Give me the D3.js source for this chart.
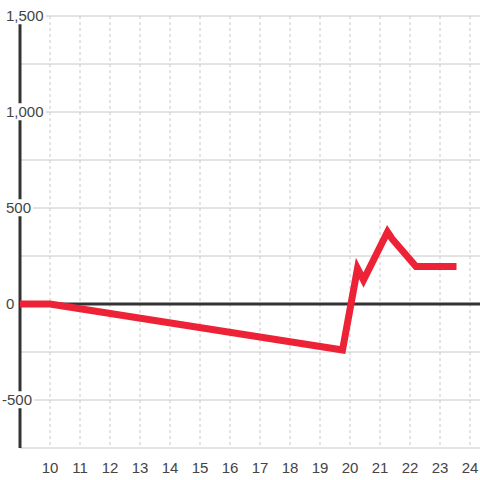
<!DOCTYPE html>
<html lang="en">
<head>
    <meta charset="UTF-8">
    <script src="https://d3js.org/d3.v7.min.js"></script>
    <title>line chart</title>
    <style>
        body { margin: 0; background: #fff; }
        text { font-family: "Liberation Sans", Arial, sans-serif; font-size: 15px; fill: #444; }
    </style>
</head>
<body>
<svg width="480" height="480"></svg>
<script>
    const xValues = [9, 10, 19.75, 20.25, 20.45, 21.25, 21.4, 22.2, 23.55];
    const yValues = [0, 0, -240, 185, 125, 375, 340, 195, 195];
    const xTicks = [10, 11, 12, 13, 14, 15, 16, 17, 18, 19, 20, 21, 22, 23, 24];
    const yTicks = [-750, -500, -250, 0, 250, 500, 750, 1000, 1250, 1500];
    const yLabels = [-500, 0, 500, 1000, 1500];

    const data = xValues.map((x, i) => ({ x: x, y: yValues[i] }));

    const svg = d3.select("svg");

    const xScale = d3.scaleLinear().domain([9, 24.333]).range([20, 480]);
    const yScale = d3.scaleLinear().domain([-750, 1500]).range([448, 16]);

    // 세로 점선 그리드
    svg.append("g").selectAll("line")
        .data(xTicks)
        .enter()
        .append("line")
        .attr("x1", d => xScale(d)).attr("x2", d => xScale(d))
        .attr("y1", yScale(1500)).attr("y2", yScale(-750))
        .attr("stroke", "#c8c8c8")
        .attr("stroke-dasharray", "3,3");

    // 가로 그리드
    svg.append("g").selectAll("line")
        .data(yTicks)
        .enter()
        .append("line")
        .attr("x1", xScale(9)).attr("x2", 480)
        .attr("y1", d => yScale(d)).attr("y2", d => yScale(d))
        .attr("stroke", "#c8c8c8");

    // y축 선
    svg.append("line")
        .attr("x1", xScale(9)).attr("x2", xScale(9))
        .attr("y1", yScale(1500)).attr("y2", yScale(-750))
        .attr("stroke", "#333").attr("stroke-width", 3);

    // 0 기준선
    svg.append("line")
        .attr("x1", xScale(9)).attr("x2", 480)
        .attr("y1", yScale(0)).attr("y2", yScale(0))
        .attr("stroke", "#333").attr("stroke-width", 3);

    // y 라벨 (흰 배경)
    const yLabelG = svg.append("g").selectAll("g")
        .data(yLabels)
        .enter()
        .append("g");
    const yText = yLabelG.append("text")
        .attr("x", d => d < 0 ? 2 : 6)
        .attr("y", d => yScale(d))
        .attr("dy", "0.35em")
        .text(d => d3.format(",")(d).replace("−", "-"));
    yLabelG.each(function () {
        const t = d3.select(this).select("text");
        const b = t.node().getBBox();
        d3.select(this).insert("rect", "text")
            .attr("x", b.x - 1).attr("y", b.y)
            .attr("width", b.width + 3).attr("height", b.height)
            .attr("fill", "#fff");
    });

    // x 라벨
    svg.append("g").selectAll("text")
        .data(xTicks)
        .enter()
        .append("text")
        .attr("x", d => xScale(d))
        .attr("y", 473)
        .attr("text-anchor", "middle")
        .text(d => d);

    const lineGen = d3.line()
        .x(d => xScale(d.x))
        .y(d => yScale(d.y));

    svg.append("path")
        .attr("d", lineGen(data))
        .attr("fill", "none")
        .attr("stroke", "#ee2236")
        .attr("stroke-width", 7)
        .attr("stroke-linejoin", "miter");
</script>
</body>
</html>
